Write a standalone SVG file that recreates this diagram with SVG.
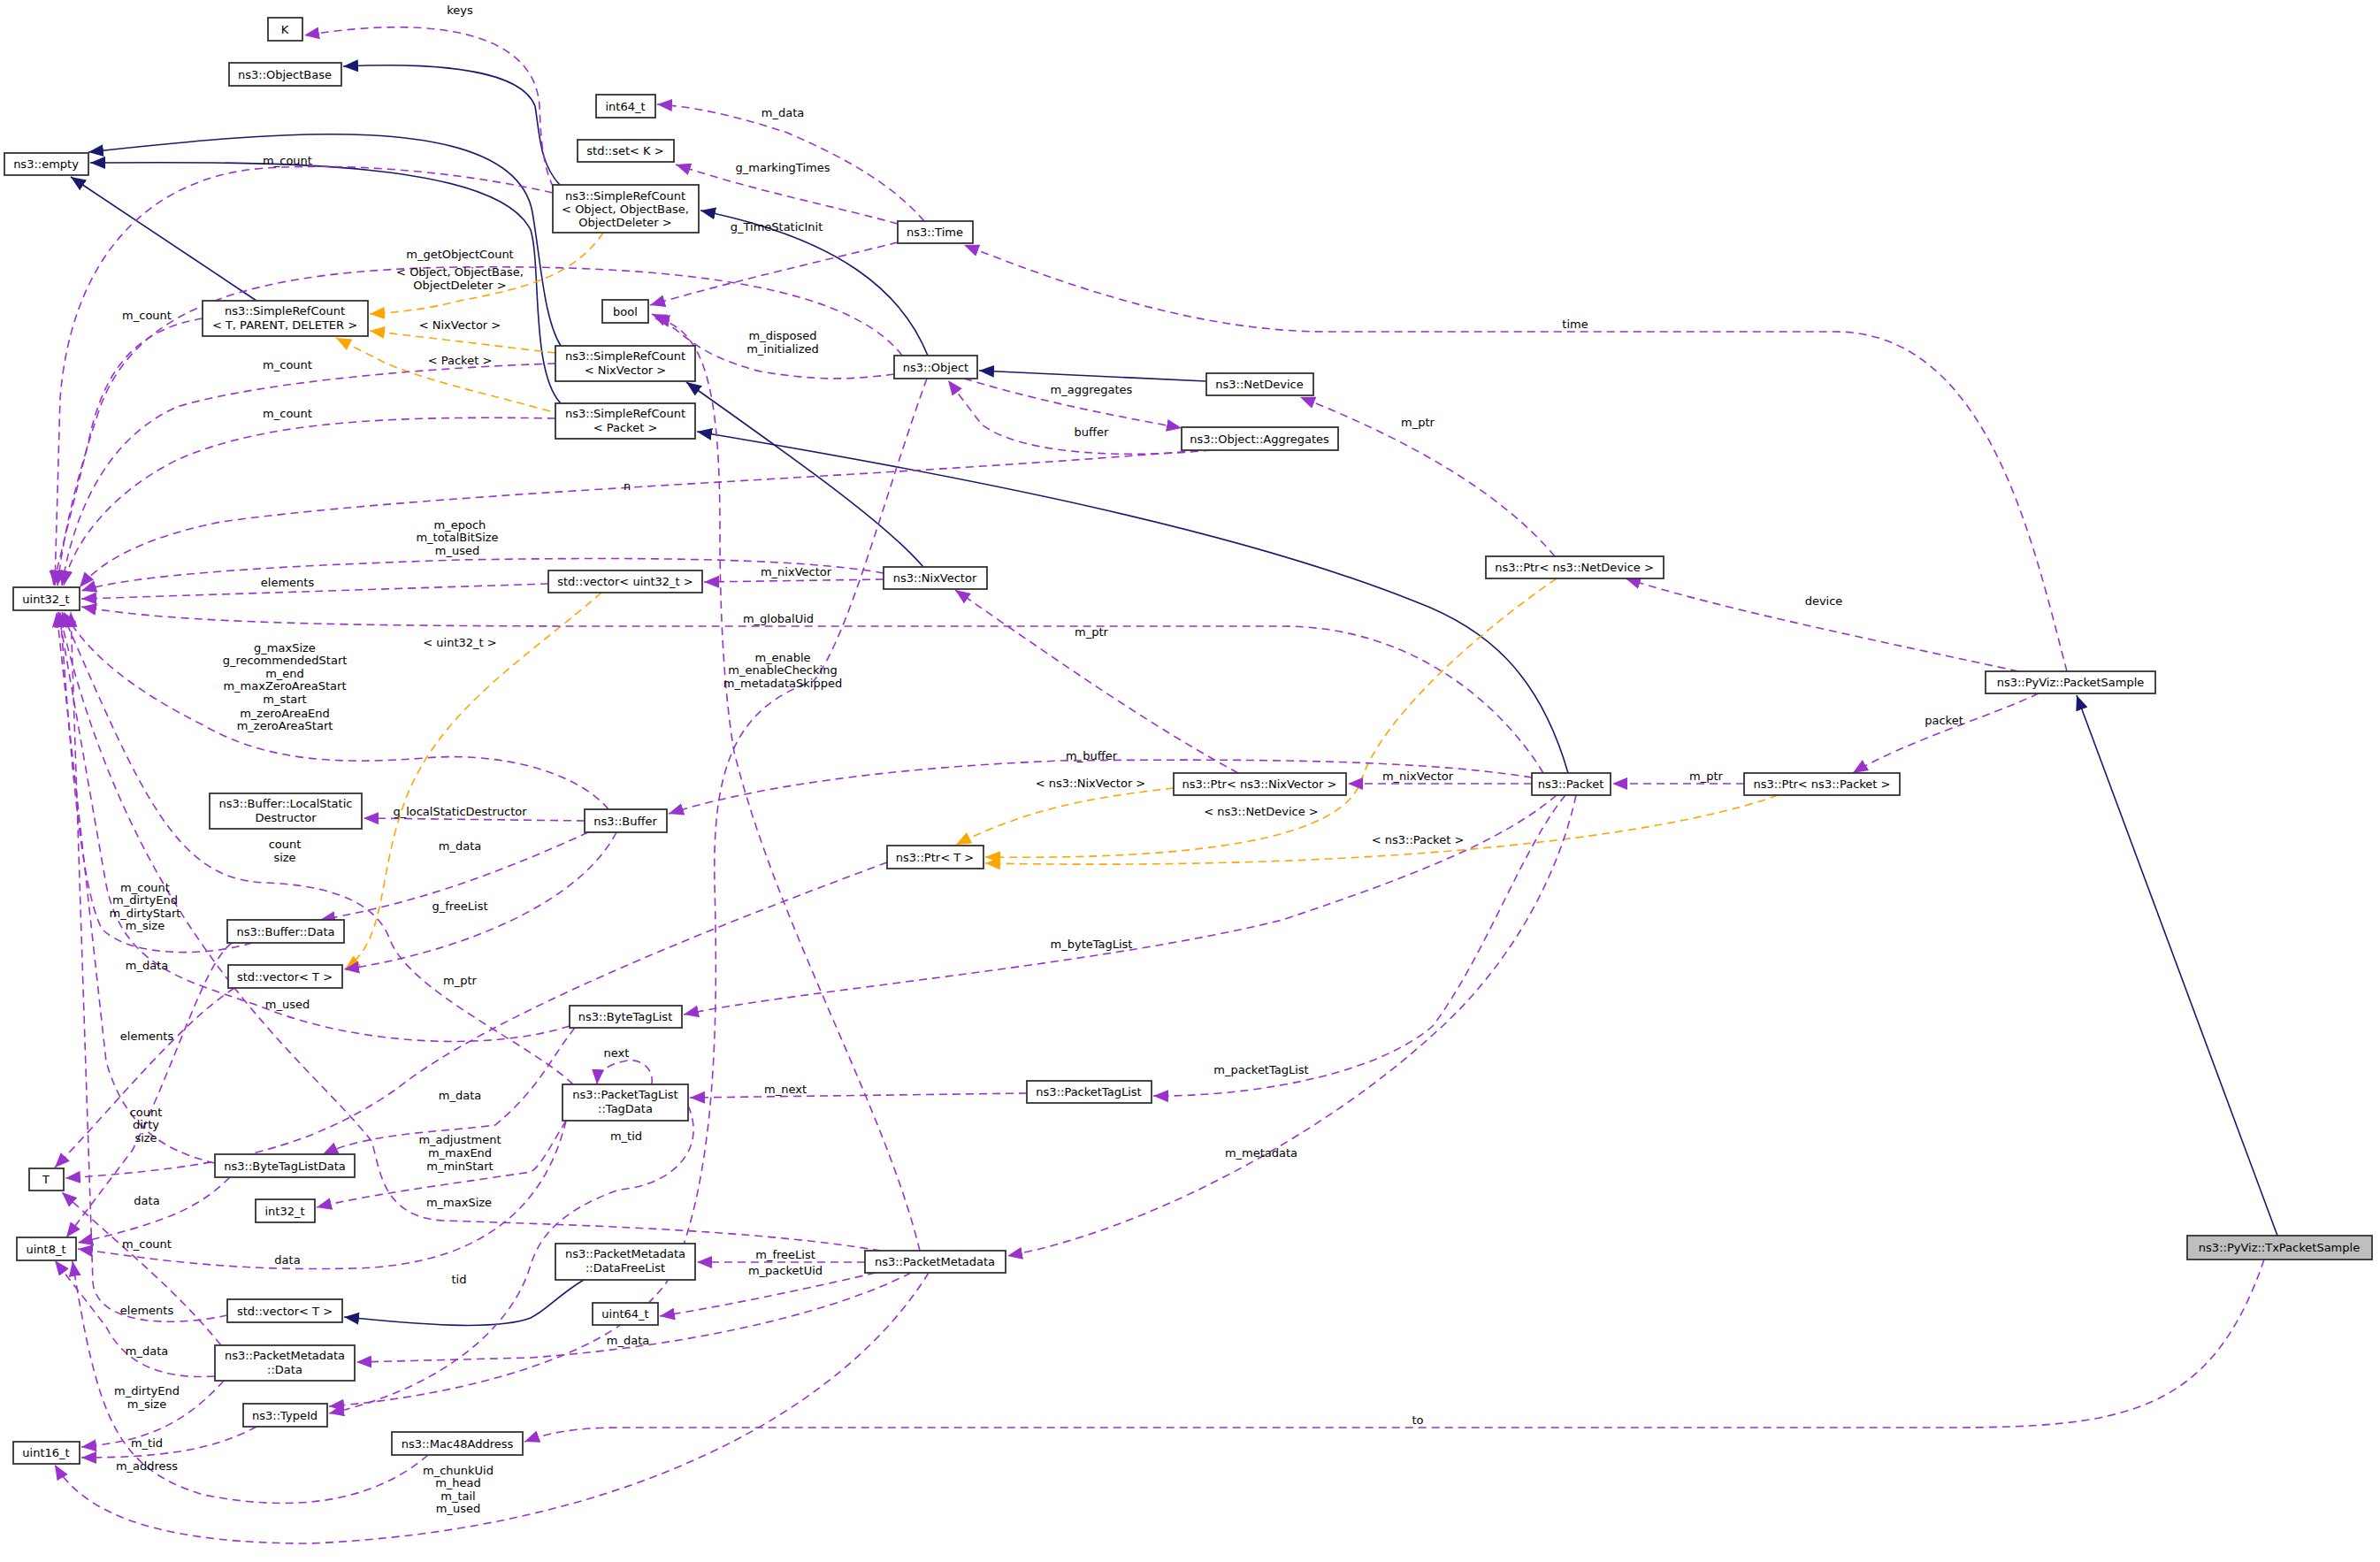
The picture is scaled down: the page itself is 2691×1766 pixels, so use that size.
<svg xmlns="http://www.w3.org/2000/svg" width="2691" height="1766" viewBox="0 0 2691 1766">
<style>
.n rect{fill:#fff;stroke:#333;stroke-width:1.8}
.n text,.l{font-family:"DejaVu Sans",sans-serif;font-size:13px;fill:#000;text-anchor:middle}
.u{fill:none;stroke:#9a32cd;stroke-width:1.6;stroke-dasharray:9,6;marker-end:url(#ap)}
.i{fill:none;stroke:#191970;stroke-width:1.6;marker-end:url(#an)}
.t{fill:none;stroke:#ffa500;stroke-width:1.6;stroke-dasharray:9,6;marker-end:url(#ao)}
</style>
<defs>
<marker id="ap" markerUnits="userSpaceOnUse" markerWidth="18" markerHeight="14" refX="17" refY="7" orient="auto"><path d="M0,0 L17,7 L0,14 z" fill="#9a32cd"/></marker>
<marker id="an" markerUnits="userSpaceOnUse" markerWidth="18" markerHeight="14" refX="17" refY="7" orient="auto"><path d="M0,0 L17,7 L0,14 z" fill="#191970"/></marker>
<marker id="ao" markerUnits="userSpaceOnUse" markerWidth="18" markerHeight="14" refX="17" refY="7" orient="auto"><path d="M0,0 L17,7 L0,14 z" fill="#ffa500"/></marker>
</defs>
<rect width="2691" height="1766" fill="#fff"/>
<g id="edges">
<path class="i" d="M633,209 C610,185 610,150 605,120 C590,80 500,70 388,75"/>
<path class="i" d="M634,391 C615,360 612,300 602,240 C580,120 300,150 100,172"/>
<path class="i" d="M634,456 C600,420 612,300 600,260 C560,180 300,183 102,184"/>
<path class="i" d="M290,340 L80,200"/>
<path class="i" d="M1049,402 C1020,330 950,270 792,238"/>
<path class="i" d="M1364,431 L1107,419"/>
<path class="i" d="M1044,641 C1000,590 900,520 776,432"/>
<path class="i" d="M1773,874 C1740,760 1680,710 1600,680 C1400,600 1100,540 788,488"/>
<path class="i" d="M2575,1397 L2348,786"/>
<path class="i" d="M660,1447 C630,1465 620,1480 600,1490 C560,1505 470,1497 389,1489"/>
<path class="t" d="M682,263 C650,310 600,325 520,340 C480,350 450,353 418,355"/>
<path class="t" d="M628,399 L418,374"/>
<path class="t" d="M622,465 C550,445 480,430 435,410 L380,382"/>
<path class="t" d="M680,670 C600,740 500,800 460,900 C425,990 440,1060 390,1096"/>
<path class="t" d="M1327,891 C1250,900 1170,910 1081,955"/>
<path class="t" d="M1760,654 C1650,730 1560,820 1540,880 C1520,950 1350,972 1114,969"/>
<path class="t" d="M2010,899 C1900,940 1600,985 1114,976"/>
<path class="u" d="M655,245 C615,220 612,170 610,120 C605,40 500,15 344,40"/>
<path class="u" d="M1045,250 C1010,210 960,180 890,150 C830,130 780,120 743,118"/>
<path class="u" d="M1015,253 C950,235 850,215 764,186"/>
<path class="u" d="M1015,274 C930,295 820,320 735,345"/>
<path class="u" d="M1011,423 C960,430 920,430 860,420 C780,400 770,370 737,355"/>
<path class="u" d="M1090,428 C1180,455 1260,470 1336,484"/>
<path class="u" d="M1370,509 C1250,520 1150,510 1110,480 L1072,430"/>
<path class="u" d="M1020,402 C950,310 700,300 520,302 C300,305 150,340 110,470 C80,560 70,620 65,662"/>
<path class="u" d="M625,218 C500,190 380,185 300,190 C160,200 80,300 68,450 L62,662"/>
<path class="u" d="M229,360 C170,370 120,400 100,500 L60,662"/>
<path class="u" d="M628,411 C500,415 300,430 200,460 C110,500 80,600 70,662"/>
<path class="u" d="M628,473 C450,470 300,475 200,520 C120,560 80,620 72,662"/>
<path class="u" d="M1370,508 C1000,540 500,555 250,590 C150,610 110,640 90,664"/>
<path class="u" d="M999,648 C900,630 700,630 520,633 C300,640 150,650 92,668"/>
<path class="u" d="M620,660 L92,677"/>
<path class="u" d="M1745,874 C1700,800 1600,708 1450,708 L700,708 C400,708 200,705 92,686"/>
<path class="u" d="M688,915 C650,870 560,850 480,857 C380,865 300,860 230,820 C150,780 100,740 72,692"/>
<path class="u" d="M648,1226 C600,1180 460,1120 440,1060 C420,1010 350,1000 300,998 C200,995 160,900 70,692"/>
<path class="u" d="M285,1066 C240,1080 150,1085 115,1050 C90,1000 80,850 68,692"/>
<path class="u" d="M644,1160 C550,1190 400,1180 300,1140 C220,1110 140,1100 120,1000 L66,692"/>
<path class="u" d="M243,1315 C180,1300 140,1270 120,1200 L64,692"/>
<path class="u" d="M996,1414 C850,1390 650,1385 500,1380 C430,1375 430,1320 420,1290 C350,1200 150,1060 67,692"/>
<path class="u" d="M257,1487 C200,1500 110,1500 105,1450 L80,692"/>
<path class="u" d="M1003,975 C800,1050 550,1150 450,1230 C350,1300 250,1320 74,1332"/>
<path class="u" d="M661,928 L411,925"/>
<path class="u" d="M665,941 C580,980 480,1020 362,1040"/>
<path class="u" d="M697,941 C650,1030 500,1080 389,1096"/>
<path class="u" d="M650,1162 C620,1200 610,1230 560,1272 C500,1280 420,1280 365,1305"/>
<path class="u" d="M737,1226 C740,1205 720,1195 705,1200 C690,1203 676,1210 675,1226"/>
<path class="u" d="M640,1267 C620,1300 610,1320 600,1325 C500,1340 420,1350 358,1365"/>
<path class="u" d="M1048,428 C1000,560 960,720 920,770 C830,800 805,870 808,1000 C812,1150 810,1330 760,1440 C700,1540 500,1580 372,1590"/>
<path class="u" d="M778,1250 C800,1300 760,1340 700,1345 C630,1370 610,1400 600,1430 C580,1500 500,1570 372,1598"/>
<path class="u" d="M260,1331 C230,1360 200,1380 88,1405"/>
<path class="u" d="M265,1117 C200,1160 130,1250 62,1320"/>
<path class="u" d="M262,1066 C230,1090 200,1200 150,1300 L75,1399"/>
<path class="u" d="M640,1267 C620,1350 560,1430 400,1434 C250,1438 150,1420 88,1412"/>
<path class="u" d="M250,1521 C200,1460 150,1420 70,1348"/>
<path class="u" d="M243,1556 C180,1560 140,1540 120,1500 L62,1425"/>
<path class="u" d="M253,1561 C200,1620 150,1630 92,1636"/>
<path class="u" d="M290,1613 C240,1640 180,1648 92,1648"/>
<path class="u" d="M484,1645 C420,1700 330,1710 230,1690 C130,1660 110,1600 82,1426"/>
<path class="u" d="M1050,1439 C950,1600 700,1730 350,1745 C200,1745 100,1720 62,1656"/>
<path class="u" d="M978,1427 L788,1427"/>
<path class="u" d="M990,1439 C900,1460 800,1480 746,1488"/>
<path class="u" d="M1030,1439 C950,1480 800,1520 600,1535 L403,1540"/>
<path class="u" d="M1040,1414 C1000,1250 880,1050 830,850 C815,760 814,650 814,600 C814,450 800,370 740,360"/>
<path class="u" d="M1782,899 C1760,1000 1700,1100 1620,1170 C1500,1280 1300,1390 1139,1420"/>
<path class="u" d="M1770,899 C1720,960 1680,1080 1620,1160 C1550,1220 1400,1240 1304,1239"/>
<path class="u" d="M1161,1236 L780,1241"/>
<path class="u" d="M1760,899 C1700,950 1600,990 1450,1040 C1250,1090 900,1120 773,1147"/>
<path class="u" d="M1732,879 C1600,858 1400,858 1200,860 C1000,868 850,890 756,920"/>
<path class="u" d="M1732,886 L1524,886"/>
<path class="u" d="M1972,886 L1823,886"/>
<path class="u" d="M2305,784 C2250,810 2150,840 2095,874"/>
<path class="u" d="M2282,759 C2150,730 1950,690 1838,654"/>
<path class="u" d="M2337,759 C2300,620 2250,375 2075,375 L1500,375 C1350,375 1200,320 1090,277"/>
<path class="u" d="M1758,629 C1700,560 1600,500 1470,449"/>
<path class="u" d="M1400,874 C1300,820 1200,750 1080,667"/>
<path class="u" d="M999,655 L796,658"/>
<path class="u" d="M2560,1424 C2500,1600 2400,1614 2200,1614 L700,1614 C650,1614 620,1620 593,1630"/>
</g>
<g id="labels" class="lbl">
<text class="l" x="520" y="16">keys</text>
<text class="l" x="885" y="132">m_data</text>
<text class="l" x="885" y="194">g_markingTimes</text>
<text class="l" x="878" y="261">g_TimeStaticInit</text>
<text class="l" x="885" y="384">m_disposed</text>
<text class="l" x="885" y="399">m_initialized</text>
<text class="l" x="1234" y="445">m_aggregates</text>
<text class="l" x="1234" y="493">buffer</text>
<text class="l" x="520" y="292">m_getObjectCount</text>
<text class="l" x="325" y="186">m_count</text>
<text class="l" x="520" y="312">&lt; Object, ObjectBase,</text>
<text class="l" x="520" y="327">ObjectDeleter &gt;</text>
<text class="l" x="166" y="361">m_count</text>
<text class="l" x="520" y="372">&lt; NixVector &gt;</text>
<text class="l" x="520" y="412">&lt; Packet &gt;</text>
<text class="l" x="325" y="417">m_count</text>
<text class="l" x="325" y="472">m_count</text>
<text class="l" x="709" y="554">n</text>
<text class="l" x="520" y="598">m_epoch</text>
<text class="l" x="517" y="612">m_totalBitSize</text>
<text class="l" x="517" y="627">m_used</text>
<text class="l" x="325" y="663">elements</text>
<text class="l" x="900" y="651">m_nixVector</text>
<text class="l" x="880" y="704">m_globalUid</text>
<text class="l" x="520" y="731">&lt; uint32_t &gt;</text>
<text class="l" x="1234" y="719">m_ptr</text>
<text class="l" x="322" y="737">g_maxSize</text>
<text class="l" x="322" y="751">g_recommendedStart</text>
<text class="l" x="322" y="766">m_end</text>
<text class="l" x="322" y="780">m_maxZeroAreaStart</text>
<text class="l" x="322" y="795">m_start</text>
<text class="l" x="322" y="811">m_zeroAreaEnd</text>
<text class="l" x="322" y="825">m_zeroAreaStart</text>
<text class="l" x="885" y="748">m_enable</text>
<text class="l" x="885" y="762">m_enableChecking</text>
<text class="l" x="885" y="777">m_metadataSkipped</text>
<text class="l" x="1234" y="859">m_buffer</text>
<text class="l" x="1603" y="882">m_nixVector</text>
<text class="l" x="1929" y="882">m_ptr</text>
<text class="l" x="1233" y="890">&lt; ns3::NixVector &gt;</text>
<text class="l" x="1426" y="922">&lt; ns3::NetDevice &gt;</text>
<text class="l" x="1603" y="954">&lt; ns3::Packet &gt;</text>
<text class="l" x="1781" y="371">time</text>
<text class="l" x="1603" y="482">m_ptr</text>
<text class="l" x="2062" y="684">device</text>
<text class="l" x="2198" y="819">packet</text>
<text class="l" x="520" y="922">g_localStaticDestructor</text>
<text class="l" x="520" y="961">m_data</text>
<text class="l" x="322" y="959">count</text>
<text class="l" x="322" y="974">size</text>
<text class="l" x="164" y="1008">m_count</text>
<text class="l" x="164" y="1022">m_dirtyEnd</text>
<text class="l" x="164" y="1037">m_dirtyStart</text>
<text class="l" x="164" y="1051">m_size</text>
<text class="l" x="520" y="1029">g_freeList</text>
<text class="l" x="1234" y="1072">m_byteTagList</text>
<text class="l" x="166" y="1096">m_data</text>
<text class="l" x="520" y="1113">m_ptr</text>
<text class="l" x="325" y="1140">m_used</text>
<text class="l" x="166" y="1176">elements</text>
<text class="l" x="697" y="1195">next</text>
<text class="l" x="1426" y="1214">m_packetTagList</text>
<text class="l" x="888" y="1236">m_next</text>
<text class="l" x="520" y="1243">m_data</text>
<text class="l" x="165" y="1262">count</text>
<text class="l" x="165" y="1276">dirty</text>
<text class="l" x="165" y="1291">size</text>
<text class="l" x="708" y="1289">m_tid</text>
<text class="l" x="520" y="1293">m_adjustment</text>
<text class="l" x="520" y="1308">m_maxEnd</text>
<text class="l" x="520" y="1323">m_minStart</text>
<text class="l" x="1426" y="1308">m_metadata</text>
<text class="l" x="166" y="1362">data</text>
<text class="l" x="519" y="1364">m_maxSize</text>
<text class="l" x="166" y="1411">m_count</text>
<text class="l" x="888" y="1423">m_freeList</text>
<text class="l" x="325" y="1429">data</text>
<text class="l" x="888" y="1441">m_packetUid</text>
<text class="l" x="519" y="1451">tid</text>
<text class="l" x="166" y="1486">elements</text>
<text class="l" x="710" y="1520">m_data</text>
<text class="l" x="166" y="1532">m_data</text>
<text class="l" x="166" y="1577">m_dirtyEnd</text>
<text class="l" x="166" y="1592">m_size</text>
<text class="l" x="1603" y="1610">to</text>
<text class="l" x="166" y="1636">m_tid</text>
<text class="l" x="166" y="1662">m_address</text>
<text class="l" x="518" y="1667">m_chunkUid</text>
<text class="l" x="518" y="1681">m_head</text>
<text class="l" x="518" y="1696">m_tail</text>
<text class="l" x="518" y="1710">m_used</text>
</g>
<g id="K" class="n"><rect x="303" y="20" width="39" height="26"/><text x="322" y="38">K</text></g>
<g id="ObjectBase" class="n"><rect x="259" y="71" width="127" height="26"/><text x="322" y="89">ns3::ObjectBase</text></g>
<g id="int64" class="n"><rect x="674" y="107" width="67" height="26"/><text x="707" y="125">int64_t</text></g>
<g id="empty" class="n"><rect x="5" y="173" width="95" height="25"/><text x="52" y="190">ns3::empty</text></g>
<g id="setK" class="n"><rect x="653" y="158" width="109" height="25"/><text x="707" y="175">std::set&lt; K &gt;</text></g>
<g id="SRCObj" class="n"><rect x="625" y="209" width="165" height="54"/><text x="707" y="226">ns3::SimpleRefCount</text><text x="707" y="241">&lt; Object, ObjectBase,</text><text x="707" y="256">ObjectDeleter &gt;</text></g>
<g id="SRCTPD" class="n"><rect x="229" y="340" width="187" height="40"/><text x="322" y="356">ns3::SimpleRefCount</text><text x="322" y="372">&lt; T, PARENT, DELETER &gt;</text></g>
<g id="bool" class="n"><rect x="681" y="339" width="52" height="26"/><text x="707" y="357">bool</text></g>
<g id="SRCNix" class="n"><rect x="628" y="391" width="158" height="40"/><text x="707" y="407">ns3::SimpleRefCount</text><text x="707" y="423">&lt; NixVector &gt;</text></g>
<g id="SRCPkt" class="n"><rect x="628" y="456" width="158" height="40"/><text x="707" y="472">ns3::SimpleRefCount</text><text x="707" y="488">&lt; Packet &gt;</text></g>
<g id="Time" class="n"><rect x="1015" y="250" width="85" height="25"/><text x="1057" y="267">ns3::Time</text></g>
<g id="Object" class="n"><rect x="1011" y="402" width="94" height="26"/><text x="1058" y="420">ns3::Object</text></g>
<g id="NetDevice" class="n"><rect x="1364" y="422" width="121" height="25"/><text x="1424" y="439">ns3::NetDevice</text></g>
<g id="Aggregates" class="n"><rect x="1336" y="483" width="177" height="26"/><text x="1424" y="501">ns3::Object::Aggregates</text></g>
<g id="uint32" class="n"><rect x="15" y="664" width="75" height="26"/><text x="52" y="682">uint32_t</text></g>
<g id="vecU32" class="n"><rect x="620" y="645" width="174" height="25"/><text x="707" y="662">std::vector&lt; uint32_t &gt;</text></g>
<g id="NixVector" class="n"><rect x="999" y="641" width="117" height="25"/><text x="1057" y="658">ns3::NixVector</text></g>
<g id="PtrNetDev" class="n"><rect x="1680" y="629" width="201" height="25"/><text x="1780" y="646">ns3::Ptr&lt; ns3::NetDevice &gt;</text></g>
<g id="PacketSample" class="n"><rect x="2245" y="759" width="192" height="25"/><text x="2341" y="776">ns3::PyViz::PacketSample</text></g>
<g id="LocalStatic" class="n"><rect x="237" y="897" width="172" height="40"/><text x="323" y="913">ns3::Buffer::LocalStatic</text><text x="323" y="929">Destructor</text></g>
<g id="Buffer" class="n"><rect x="661" y="915" width="93" height="26"/><text x="707" y="933">ns3::Buffer</text></g>
<g id="PtrNix" class="n"><rect x="1327" y="874" width="195" height="25"/><text x="1424" y="891">ns3::Ptr&lt; ns3::NixVector &gt;</text></g>
<g id="Packet" class="n"><rect x="1732" y="874" width="89" height="25"/><text x="1776" y="891">ns3::Packet</text></g>
<g id="PtrPkt" class="n"><rect x="1972" y="874" width="176" height="25"/><text x="2060" y="891">ns3::Ptr&lt; ns3::Packet &gt;</text></g>
<g id="PtrT" class="n"><rect x="1003" y="956" width="109" height="26"/><text x="1057" y="974">ns3::Ptr&lt; T &gt;</text></g>
<g id="BufData" class="n"><rect x="257" y="1040" width="132" height="26"/><text x="323" y="1058">ns3::Buffer::Data</text></g>
<g id="vecT" class="n"><rect x="258" y="1091" width="129" height="26"/><text x="322" y="1109">std::vector&lt; T &gt;</text></g>
<g id="ByteTagList" class="n"><rect x="644" y="1137" width="127" height="25"/><text x="707" y="1154">ns3::ByteTagList</text></g>
<g id="PacketTagList" class="n"><rect x="1161" y="1222" width="141" height="25"/><text x="1231" y="1239">ns3::PacketTagList</text></g>
<g id="TagData" class="n"><rect x="636" y="1226" width="142" height="41"/><text x="707" y="1242">ns3::PacketTagList</text><text x="707" y="1258">::TagData</text></g>
<g id="T" class="n"><rect x="33" y="1321" width="39" height="25"/><text x="52" y="1338">T</text></g>
<g id="BTLData" class="n"><rect x="243" y="1305" width="158" height="26"/><text x="322" y="1323">ns3::ByteTagListData</text></g>
<g id="int32" class="n"><rect x="289" y="1356" width="67" height="26"/><text x="322" y="1374">int32_t</text></g>
<g id="uint8" class="n"><rect x="19" y="1399" width="67" height="26"/><text x="52" y="1417">uint8_t</text></g>
<g id="DFL" class="n"><rect x="628" y="1406" width="158" height="41"/><text x="707" y="1422">ns3::PacketMetadata</text><text x="707" y="1438">::DataFreeList</text></g>
<g id="PM" class="n"><rect x="978" y="1414" width="159" height="25"/><text x="1057" y="1431">ns3::PacketMetadata</text></g>
<g id="TxPS" class="n"><rect x="2473" y="1397" width="209" height="27" style="fill:#bfbfbf"/><text x="2577" y="1415">ns3::PyViz::TxPacketSample</text></g>
<g id="vecT2" class="n"><rect x="257" y="1469" width="130" height="26"/><text x="322" y="1487">std::vector&lt; T &gt;</text></g>
<g id="uint64" class="n"><rect x="670" y="1473" width="74" height="25"/><text x="707" y="1490">uint64_t</text></g>
<g id="PMData" class="n"><rect x="243" y="1521" width="158" height="40"/><text x="322" y="1537">ns3::PacketMetadata</text><text x="322" y="1553">::Data</text></g>
<g id="TypeId" class="n"><rect x="275" y="1587" width="95" height="26"/><text x="322" y="1605">ns3::TypeId</text></g>
<g id="Mac48" class="n"><rect x="443" y="1619" width="148" height="26"/><text x="517" y="1637">ns3::Mac48Address</text></g>
<g id="uint16" class="n"><rect x="15" y="1630" width="75" height="25"/><text x="52" y="1647">uint16_t</text></g>
</svg>
